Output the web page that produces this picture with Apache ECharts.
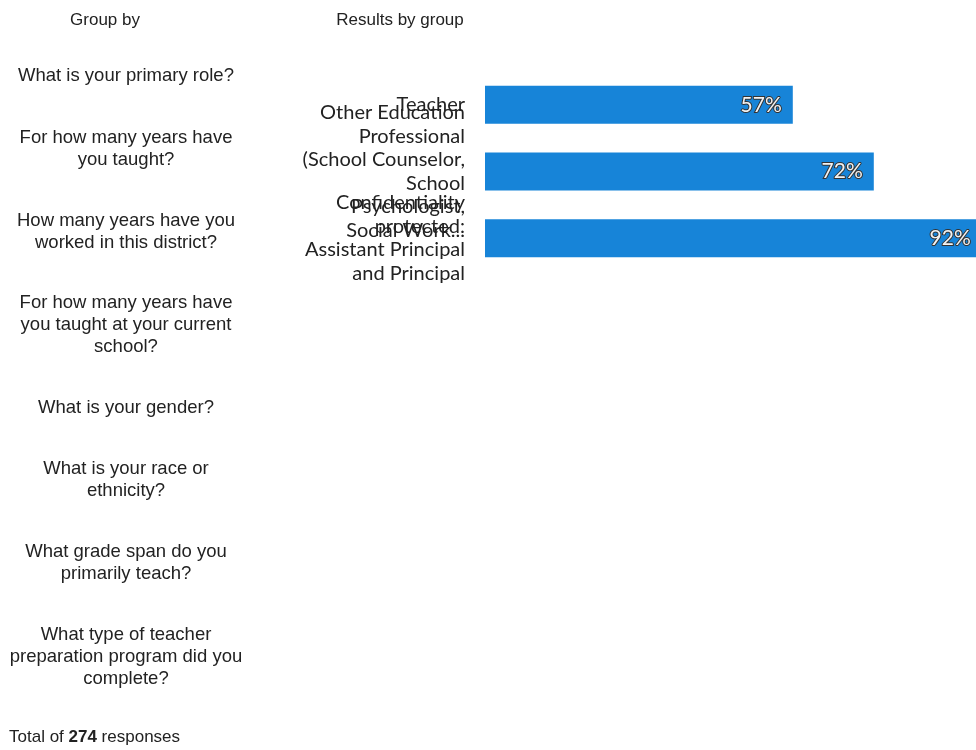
<!DOCTYPE html>
<html>
<head>
<meta charset="utf-8">
<script src="https://cdn.jsdelivr.net/npm/echarts@6/dist/echarts.min.js"></script>
<style>
html,body{margin:0;padding:0;background:#fff;}
#chart{width:976px;height:750px;}
</style>
</head>
<body>
<div id="chart"></div>
<script>
var categories = [
  "Teacher",
  "Other Education\nProfessional\n(School Counselor,\nSchool\nPsychologist,\nSocial Work...",
  "Confidentiality\nprotected:\nAssistant Principal\nand Principal"
];
var values = [57, 72, 92];
var questions = [
  "What is your primary role?",
  "For how many years have\nyou taught?",
  "How many years have you\nworked in this district?",
  "For how many years have\nyou taught at your current\nschool?",
  "What is your gender?",
  "What is your race or\nethnicity?",
  "What grade span do you\nprimarily teach?",
  "What type of teacher\npreparation program did you\ncomplete?"
];
var questionY = [76, 149, 232, 325, 408, 480, 563, 657];
var totalResponses = 274;

var chart = echarts.init(document.getElementById('chart'), null, {renderer: 'canvas'});

var FONT = '"Liberation Sans", Arial, sans-serif';
var graphics = [
  {type: 'text', x: 105, y: 20, style: {text: 'Group by', font: '17px ' + FONT, fill: '#222', align: 'center', verticalAlign: 'middle'}},
  {type: 'text', x: 400, y: 20, style: {text: 'Results by group', font: '17px ' + FONT, fill: '#222', align: 'center', verticalAlign: 'middle'}},
  {type: 'text', x: 9, y: 737, style: {
    text: 'Total of {b|' + totalResponses + '} responses',
    font: '17px ' + FONT, fill: '#222', verticalAlign: 'middle',
    rich: {b: {fontWeight: 'bold', fontSize: 17, fontFamily: FONT, fill: '#222'}}
  }}
];
questions.forEach(function (q, i) {
  graphics.push({
    type: 'text', x: 126, y: questionY[i],
    style: {
      text: q, font: '18.5px ' + FONT, fill: '#222',
      align: 'center', verticalAlign: 'middle', lineHeight: 22
    }
  });
});

chart.setOption({
  animation: false,
  grid: {left: 485, top: 71.5, height: 200, width: 540, containLabel: false, outerBoundsMode: 'none'},
  xAxis: {type: 'value', min: 0, max: 100, show: false},
  yAxis: {
    type: 'category', data: categories, inverse: true,
    axisLine: {show: false}, axisTick: {show: false}, splitLine: {show: false},
    axisLabel: {
      interval: 0, hideOverlap: false,
      margin: 20, color: '#222', fontFamily: 'Lato, sans-serif', fontSize: 20,
      lineHeight: 23.5, align: 'right'
    }
  },
  series: [{
    type: 'bar', data: values, barWidth: 38, clip: false,
    itemStyle: {color: '#1784d8'},
    label: {
      show: true, position: 'insideRight', distance: 11,
      formatter: '{c}%', color: '#f2f2f2', fontFamily: 'Lato, sans-serif',
      fontSize: 21, fontWeight: 'normal', textBorderColor: '#333', textBorderWidth: 2
    }
  }],
  graphic: graphics
});
</script>
</body>
</html>
